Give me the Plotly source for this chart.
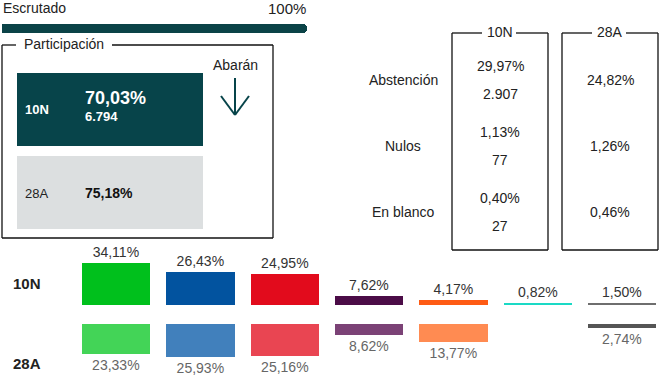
import plotly.graph_objects as go

# ---------------- data ----------------
escrutado = 100.0

part_labels = ["10N", "28A"]
part_pct = [70.03, 75.18]
part_votes_10n = 6794
municipio = "Abarán"

table_rows = ["Abstención", "Nulos", "En blanco"]
table_10n_pct = [29.97, 1.13, 0.40]
table_10n_n = [2907, 77, 27]
table_28a_pct = [24.82, 1.26, 0.46]

parties = ["Vox", "PP", "PSOE", "UP", "Cs", "Más País", "Otros"]
votes_10n = [34.11, 26.43, 24.95, 7.62, 4.17, 0.82, 1.50]
votes_28a = [23.33, 25.93, 25.16, 8.62, 13.77, None, 2.74]
colors_10n = ["#00c01c", "#02539f", "#e20b1c", "#4b0c47", "#fe5b14", "#1ad9c5", "#6e6e6e"]
colors_28a = ["#43d457", "#4180bc", "#e94552", "#7b4276", "#ff8b52", "#ffffff", "#555555"]

# ---------------- helpers ----------------
W, H = 670, 377
FONT = "Liberation Sans, Arial, sans-serif"
DARK = "#07444a"


def X(p):
    return p / W


def Y(p):
    return 1 - p / H


def pct(v):
    return f"{v:.2f}".replace(".", ",") + "%"


def num(n):
    return f"{n:,}".replace(",", ".")


fig = go.Figure()

# party bars, 10N (upwards)
fig.add_trace(go.Bar(
    x=parties, y=votes_10n, marker=dict(color=colors_10n, line=dict(width=0)),
    width=0.807, text=[pct(v) for v in votes_10n], textposition="outside",
    textfont=dict(family=FONT, size=14, color="#333333"), cliponaxis=False,
    xaxis="x", yaxis="y", hoverinfo="skip", showlegend=False,
))
# party bars, 28A (downwards)
fig.add_trace(go.Bar(
    x=parties, y=votes_28a, marker=dict(color=colors_28a, line=dict(width=0)),
    width=0.807, text=[pct(v) if v is not None else "" for v in votes_28a],
    textposition="outside",
    textfont=dict(family=FONT, size=14, color="#666666"), cliponaxis=False,
    xaxis="x2", yaxis="y2", hoverinfo="skip", showlegend=False,
))
# scrutiny progress bar
fig.add_trace(go.Bar(
    x=[escrutado], y=["Escrutado"], orientation="h", width=1,
    marker=dict(color="#0b4347", cornerradius="50%", line=dict(width=0)),
    xaxis="x3", yaxis="y3", hoverinfo="skip", showlegend=False,
))

bar_dom = [X(73.85), X(664.15)]
fig.update_layout(
    width=W, height=H, margin=dict(l=0, r=0, t=0, b=0),
    paper_bgcolor="white", plot_bgcolor="rgba(0,0,0,0)",
    font=dict(family=FONT, color="#222222"),
    xaxis=dict(domain=bar_dom, range=[-0.5, 6.5], visible=False),
    yaxis=dict(domain=[Y(305), Y(245)], range=[0, 60 / 1.23], visible=False),
    xaxis2=dict(domain=bar_dom, range=[-0.5, 6.5], visible=False, anchor="y2"),
    yaxis2=dict(domain=[Y(377), Y(324)], range=[53 / 1.28, 0], visible=False, anchor="x2"),
    xaxis3=dict(domain=[X(2), X(307)], range=[0, 100], visible=False, anchor="y3"),
    yaxis3=dict(domain=[Y(33), Y(24)], range=[-0.5, 0.5], visible=False, anchor="x3"),
    bargap=0,
)

shapes = []
ann = []


def line(x0, y0, x1, y1, color="#111111", w=1.3):
    shapes.append(dict(type="line", xref="paper", yref="paper",
                       x0=X(x0), y0=Y(y0), x1=X(x1), y1=Y(y1),
                       line=dict(color=color, width=w)))


def rect(x0, y0, x1, y1, fill):
    shapes.append(dict(type="rect", xref="paper", yref="paper",
                       x0=X(x0), y0=Y(y1), x1=X(x1), y1=Y(y0),
                       fillcolor=fill, line=dict(width=0), layer="below"))


def text(t, x, y, size=14, color="#222222", xanchor="center", bold=False):
    if bold:
        t = f"<b>{t}</b>"
    ann.append(dict(text=t, xref="paper", yref="paper", x=X(x), y=Y(y),
                    xanchor=xanchor, yanchor="middle", showarrow=False,
                    font=dict(family=FONT, size=size, color=color)))


# header
text("Escrutado", 1, 8, 14, xanchor="left")
text(f"{escrutado:.0f}%", 308, 8, 15, xanchor="right")

# participation box
line(2, 45, 16, 45)
line(112, 45, 273, 45)
line(2, 45, 2, 238)
line(273, 45, 273, 238)
line(2, 238, 273, 238)
text("Participación", 64, 44, 14)
rect(17, 73, 203, 146, DARK)
rect(17, 156, 203, 229, "#dcdfe0")
text(part_labels[0], 23, 109, 13, "white", "left", bold=True)
text(pct(part_pct[0]), 83, 98, 18, "white", "left", bold=True)
text(num(part_votes_10n), 83, 117, 13, "white", "left", bold=True)
text(part_labels[1], 23, 193, 13, "#222222", "left")
text(pct(part_pct[1]), 83, 193, 14, "#111111", "left", bold=True)

# municipality arrow
text(municipio, 235, 65, 14)
line(235, 78, 235, 115, DARK, 2)
line(221, 96, 235, 115, DARK, 2)
line(249, 96, 235, 115, DARK, 2)

# table boxes
for (x0, x1, gx0, gx1, title) in [(452, 548, 482, 516, "10N"), (562, 658, 592, 626, "28A")]:
    line(x0, 33, gx0, 33)
    line(gx1, 33, x1, 33)
    line(x0, 33, x0, 250)
    line(x1, 33, x1, 250)
    line(x0, 250, x1, 250)
    text(title, (x0 + x1) / 2, 32, 14)

row_y = [80, 146, 212]
for i, lab in enumerate(table_rows):
    yc = row_y[i]
    text(lab, 403, yc, 14)
    text(pct(table_10n_pct[i]), 500, yc - 14, 14)
    text(num(table_10n_n[i]), 500, yc + 14, 14)
    text(pct(table_28a_pct[i]), 610, yc, 14)

# bar row labels
text("10N", 11, 283, 15, "#222222", "left", bold=True)
text("28A", 11, 363, 15, "#222222", "left", bold=True)

fig.update_layout(shapes=shapes, annotations=ann)
fig.write_html(
    "out.html",
    config={"displayModeBar": False},
    post_script="document.body.style.margin='0';document.body.style.overflow='hidden';"
                "document.documentElement.style.overflow='hidden';",
)
